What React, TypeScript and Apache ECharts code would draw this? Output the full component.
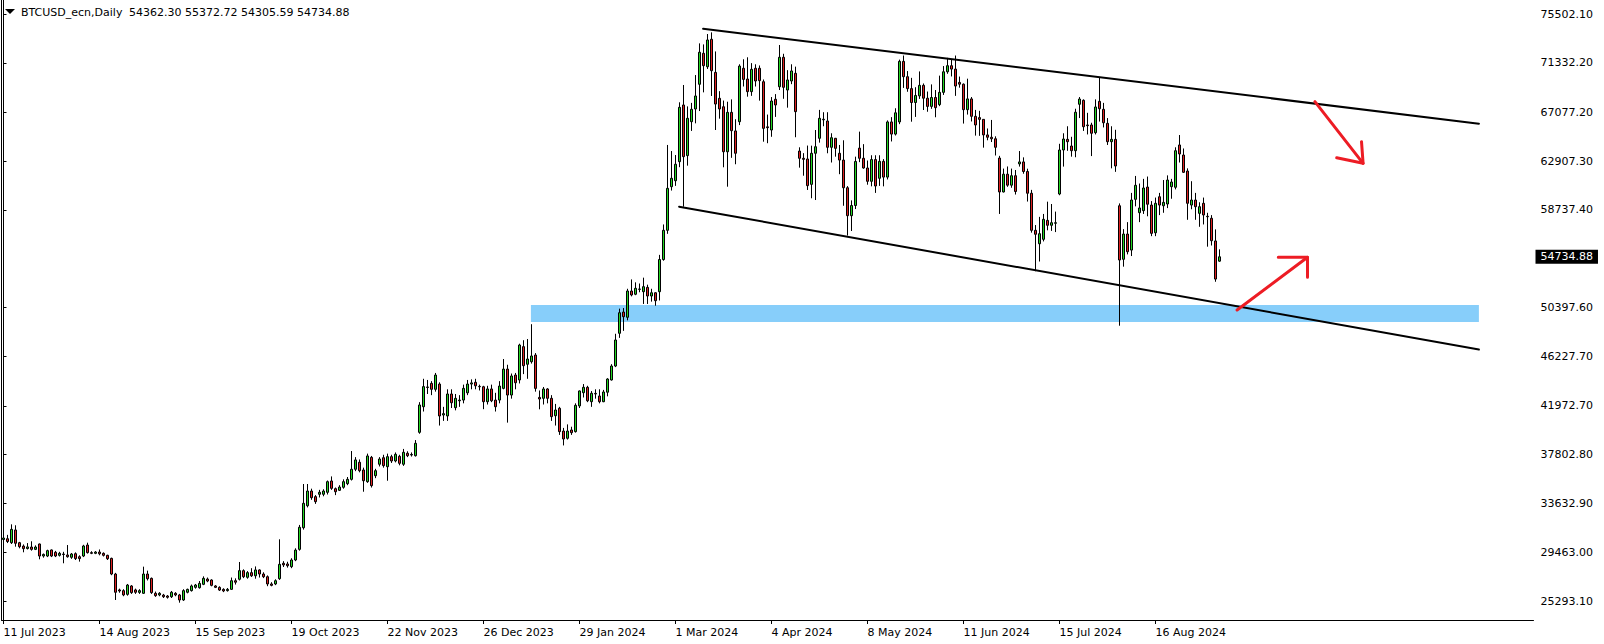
import React, { useEffect, useRef } from 'react';
import * as echarts from 'echarts';

// ---- data -----------------------------------------------------------------
const firstBarDate = '2023-07-11';
const slotCount = 383; // bars + empty space on the right of the chart
const tickEvery = 24;
const tickLabels = [
  '11 Jul 2023', '14 Aug 2023', '15 Sep 2023', '19 Oct 2023', '22 Nov 2023',
  '26 Dec 2023', '29 Jan 2024', '1 Mar 2024', '4 Apr 2024', '8 May 2024',
  '11 Jun 2024', '15 Jul 2024', '16 Aug 2024',
];
const priceTicks = [
  75502.1, 71332.2, 67077.2, 62907.3, 58737.4, 50397.6, 46227.7, 41972.7,
  37802.8, 33632.9, 29463.0, 25293.1,
];
const symbolName = 'BTCUSD_ecn,Daily';
const yMin = 23668;
const yMax = 76699.6;

// daily bars (weekdays), [open, high, low, close]
const ohlc: number[][] = [
  [30550, 30820, 30300, 30680], [30620, 30950, 30250, 30380], [30280, 31850, 30170, 31420], [31370, 31770, 29940, 30230],
  [30280, 30350, 29800, 29940], [29990, 30130, 29460, 29770], [29780, 30250, 29700, 29920], [29910, 30400, 29600, 29710], [29710, 30050, 29650, 29910],
  [30170, 30200, 28860, 29140], [29140, 29350, 29000, 29280], [29140, 29680, 29050, 29600], [29660, 29700, 29050, 29140], [29460, 29580, 29050, 29140],
  [29200, 29500, 29100, 29370], [29310, 29500, 28520, 29270], [29230, 30080, 29000, 29080], [29030, 29400, 28900, 29310], [29340, 29450, 28800, 28920],
  [29080, 29200, 28660, 28920], [29140, 30100, 29050, 30000], [30080, 30280, 29350, 29430], [29430, 29550, 29300, 29370], [29370, 29560, 29300, 29480],
  [29480, 29700, 29200, 29330], [29370, 29450, 29100, 29200], [29200, 29250, 28800, 28910], [28940, 29000, 27500, 27600], [27600, 27700, 25380, 26040],
  [26240, 26350, 26000, 26150], [26180, 26300, 25700, 25810], [25860, 26750, 25750, 26660], [26580, 26650, 25900, 26010], [26240, 26350, 25900, 26040],
  [26030, 26300, 25900, 26180], [25950, 28230, 25900, 27600], [27600, 27890, 27050, 27200], [27230, 27300, 25900, 26010], [25950, 26100, 25650, 25750],
  [25810, 26050, 25700, 25950], [25800, 25900, 25550, 25660], [25720, 25800, 25500, 25610], [25660, 26150, 25550, 26040], [25950, 26050, 25700, 25810],
  [25810, 25900, 25150, 25380], [25380, 26300, 25300, 26180], [26040, 26350, 25950, 26290], [26180, 26700, 26100, 26580], [26460, 26750, 26350, 26660],
  [26430, 27000, 26350, 26800], [26720, 27400, 26650, 27230], [27170, 27300, 26900, 27000], [27090, 27150, 26550, 26630], [26580, 26650, 26400, 26460],
  [26460, 26550, 26150, 26230], [26290, 26380, 26050, 26150], [26180, 26400, 26100, 26290], [26290, 27300, 26250, 27030], [27030, 27230, 26700, 26900],
  [27150, 28630, 27050, 27890], [27890, 28000, 27250, 27370], [27320, 27850, 27200, 27720], [27720, 28100, 27350, 27450], [27450, 28250, 27200, 27950],
  [27950, 28000, 27300, 27600], [27600, 27750, 27250, 27370], [27370, 27480, 26560, 26750], [26750, 26900, 26550, 26630], [26750, 27150, 26650, 27030],
  [27200, 30570, 27100, 28430], [28520, 28700, 28200, 28380], [28460, 28650, 28150, 28310], [28230, 28950, 28100, 28800], [28800, 29800, 28700, 29650],
  [29710, 31800, 29600, 31600], [31560, 35300, 31400, 33650], [33440, 35300, 33300, 34700], [34700, 34900, 33950, 34130], [34220, 34350, 33600, 33790],
  [34420, 34800, 34150, 34590], [34420, 34850, 34250, 34700], [34590, 35600, 34400, 35500], [35560, 35950, 34800, 34930], [34900, 35000, 34350, 34640],
  [34760, 35200, 34700, 35040], [35020, 35700, 34900, 35500], [35330, 35900, 35200, 35700], [35700, 38120, 35600, 36560], [36560, 37600, 36400, 37360],
  [37160, 37400, 36300, 36440], [36500, 36700, 34640, 35580], [35500, 37900, 35400, 37700], [37580, 37700, 35000, 35160], [36010, 36600, 35800, 36440],
  [36990, 37600, 36800, 37440], [37550, 37800, 36700, 36870], [36780, 37900, 35580, 37640], [37640, 37800, 37100, 37270], [37270, 38000, 37150, 37840],
  [37670, 37800, 36900, 37070], [36990, 38300, 36850, 38010], [37930, 38100, 37600, 37720], [37780, 38000, 37650, 37830], [37720, 39060, 37650, 38780],
  [39720, 42300, 39600, 42060], [41910, 44300, 41500, 43630], [43600, 44200, 43000, 43560], [43910, 44100, 42900, 43400], [43400, 44800, 43200, 44620],
  [43850, 44000, 40300, 41120], [41200, 41900, 40700, 41320], [41120, 43400, 40700, 43000], [43000, 43400, 41800, 42250], [41830, 43000, 41600, 42630],
  [42420, 42900, 41900, 42480], [42480, 43800, 42200, 43480], [43100, 44200, 42900, 43850], [43850, 44250, 43400, 43950], [44000, 44300, 43400, 43700],
  [43650, 43800, 43300, 43620], [43620, 43700, 41700, 42340], [42340, 43700, 42100, 43430], [43430, 43800, 42300, 42420], [42480, 43100, 41500, 41910],
  [42480, 44100, 42200, 43680], [43480, 45990, 43400, 45130], [45130, 45500, 40550, 42910], [42910, 44750, 42600, 44540], [44620, 44800, 43400, 43960],
  [44200, 47300, 43900, 47190], [47050, 47600, 44700, 45420], [45540, 47700, 44300, 45990], [45760, 48970, 45600, 46250], [46330, 46500, 43200, 43480],
  [42710, 43300, 41690, 42570], [42630, 43600, 42100, 43430], [43430, 43500, 42200, 42630], [42630, 42900, 40700, 41060], [41140, 42150, 40300, 41630],
  [41780, 41900, 39500, 39780], [39830, 40100, 38600, 39150], [39210, 40400, 39100, 39830], [39920, 40200, 39500, 39690], [39780, 42200, 39700, 42030],
  [41980, 43300, 41800, 43260], [43110, 43850, 42700, 43570], [43570, 43700, 42300, 42420], [42340, 43250, 41900, 43060], [43050, 43400, 42600, 43000],
  [42830, 43400, 42200, 42340], [42340, 43350, 42300, 43170], [43150, 44350, 42800, 44280], [44200, 45550, 44150, 45390], [45390, 48150, 45300, 47620],
  [48190, 50300, 47800, 49950], [50010, 50350, 48400, 49610], [49560, 52000, 49300, 51810], [51810, 52800, 51350, 51470], [51530, 52550, 51450, 52040],
  [51950, 52450, 51700, 51980], [51750, 52950, 50700, 52180], [52120, 52350, 50700, 51380], [51380, 52000, 50900, 51660], [51660, 51700, 50550, 50980],
  [51750, 54900, 51000, 54500], [54500, 57500, 54400, 57000], [57000, 64300, 56700, 60590], [60730, 63780, 60400, 61450], [61240, 63440, 60800, 62650],
  [62870, 67950, 62400, 67520], [67720, 69430, 59020, 63300], [63390, 67600, 62530, 66580], [66290, 67900, 65500, 67350], [67380, 70280, 66150, 68490],
  [69490, 72990, 67200, 72230], [72140, 72900, 68800, 71080], [70990, 73790, 70800, 73280], [73340, 73930, 68490, 70650], [70510, 72300, 65580, 67800],
  [68290, 68900, 66550, 67380], [67570, 68100, 62390, 63720], [63720, 68000, 60730, 67090], [67090, 68200, 63200, 65520], [65500, 66500, 62650, 63590],
  [66290, 71200, 66000, 71050], [70860, 71630, 69300, 69910], [69940, 71800, 68430, 68860], [68860, 71300, 68500, 70770], [70860, 71200, 69300, 69770],
  [70860, 71100, 68090, 69800], [69710, 69900, 64580, 65720], [65850, 66900, 64450, 65780], [65580, 68400, 65000, 68060], [68210, 68650, 66700, 67720],
  [69280, 72850, 69000, 71800], [71800, 72100, 68250, 69230], [69000, 70700, 67490, 69860], [69770, 71200, 69500, 70630], [70430, 71000, 64960, 67150],
  [63780, 64100, 62360, 63160], [63160, 63600, 61670, 63070], [63100, 64250, 60450, 60820], [60930, 64240, 59740, 63590], [63590, 65580, 59590, 64150],
  [64870, 67300, 64500, 66580], [66450, 67100, 65900, 66500], [66350, 67100, 63590, 64100], [64100, 65300, 62800, 64920], [64870, 64900, 63300, 64010],
  [63590, 64300, 61800, 63010], [63010, 64700, 59100, 60640], [60640, 60780, 56550, 58250], [58250, 59560, 56940, 59120], [59120, 63300, 58820, 62890],
  [64030, 65440, 62830, 63160], [63160, 64370, 62270, 62330], [62330, 62970, 60900, 61190], [61190, 63420, 60760, 63050], [63050, 63420, 60200, 60790],
  [61450, 63420, 60800, 62900], [62900, 63090, 60760, 61550], [61550, 66400, 61350, 66270], [66270, 66680, 64600, 65230], [65230, 67440, 65110, 67050],
  [66270, 71600, 66080, 71450], [71450, 71950, 69180, 70140], [70140, 70620, 68850, 69120], [69120, 70040, 66290, 67930], [67930, 69240, 66700, 68530],
  [68500, 70590, 68240, 69400], [69400, 69560, 67290, 68300], [68300, 68870, 67140, 67600], [67600, 69480, 67390, 68360], [68360, 69000, 66670, 67490],
  [67750, 70230, 67620, 68800], [68800, 71050, 68580, 70560], [70560, 71750, 70390, 71080], [71080, 71600, 70160, 70790], [70790, 71950, 68500, 69340],
  [69650, 70150, 69200, 69500], [69500, 69560, 66130, 67320], [67320, 69970, 66900, 68240], [68240, 68400, 66310, 66750], [66750, 67300, 65100, 66010],
  [66640, 67220, 65080, 66490], [66490, 66490, 64070, 65160], [65160, 65710, 64700, 64960], [64960, 66440, 64550, 64830], [64830, 65040, 63400, 64100],
  [63180, 63370, 58400, 60280], [60280, 62280, 60240, 61800], [61800, 62460, 60720, 60860], [60860, 62280, 60640, 61670], [61670, 62160, 60060, 60320],
  [62680, 63780, 62450, 62850], [62850, 63240, 61840, 62030], [62030, 62270, 59460, 60170], [60170, 60460, 56800, 57000], [57000, 57450, 53500, 56660],
  [55850, 58150, 54330, 56710], [56230, 58400, 56050, 57940], [57850, 59450, 57000, 57430], [57430, 59250, 56950, 57650], [57600, 58600, 56850, 57650],
  [60105, 64400, 60000, 63870], [63870, 65300, 62450, 64810], [64780, 65900, 63800, 64580], [64210, 65000, 63300, 63810], [63810, 67400, 63250, 67100],
  [67780, 68400, 66600, 68230], [68120, 68200, 65500, 65860], [66010, 67050, 65200, 65950], [66010, 66200, 63350, 65300], [65350, 68200, 65200, 67550],
  [68030, 70090, 66300, 67400], [67350, 67900, 65800, 66200], [66150, 66600, 64300, 64580], [64580, 65900, 62300, 64780], [64780, 65600, 62000, 62500],
  [59100, 59300, 48840, 54460], [54520, 57100, 53890, 56680], [56680, 57700, 54940, 55170], [55310, 60200, 54800, 59590], [59650, 61650, 59050, 60850],
  [58510, 61000, 57700, 58910], [58680, 61400, 58400, 60620], [60700, 61600, 58200, 59230], [59160, 59500, 56500, 56740], [56790, 59800, 56500, 59310],
  [59870, 60200, 58300, 59160], [59100, 61300, 58500, 59390], [59250, 61700, 58900, 61300], [60730, 61400, 59700, 61130], [60680, 64100, 60500, 63810],
  [64300, 65150, 62800, 63530], [63440, 64000, 61900, 61960], [62070, 62300, 57900, 59310], [59160, 61200, 58800, 59590], [59590, 60200, 57900, 59020],
  [58450, 59400, 57300, 59020], [59310, 59800, 57500, 58310], [58200, 58500, 55600, 58160], [58030, 58300, 55700, 56110], [56090, 57080, 52600, 52830],
  [54362.30, 55372.72, 54305.59, 54734.88],
];

// chart objects drawn by the analyst, anchored at [bar index, price]
const channelUpper = [[174.9, 74245], [368.85, 66119]];
const channelLower = [[168.9, 59020], [368.85, 46805]];
const supportZone = [[131.85, 50612], [368.85, 49157]];
const arrowDownShaft = [[327.85, 68001], [339.9, 62731]];
const arrowDownHead = [[333.3, 63211], [339.9, 62731], [339.5, 64579]];
const arrowUpShaft = [[308.4, 50184], [326.0, 54692]];
const arrowUpHead = [[318.7, 54692], [326.0, 54692], [326.0, 52981]];

// ---- helpers --------------------------------------------------------------
function weekdayDates(start: string, count: number): string[] {
  const out: string[] = [];
  const d = new Date(start + 'T00:00:00Z');
  while (out.length < count) {
    const wd = d.getUTCDay();
    if (wd !== 0 && wd !== 6) out.push(d.toISOString().slice(0, 10));
    d.setUTCDate(d.getUTCDate() + 1);
  }
  return out;
}

const FONT = 'DejaVu Sans';
const BULL = '#22D622';
const BEAR = '#DC2020';
const ARROW = '#ED1C24';

export default function App() {
  const ref = useRef<HTMLDivElement>(null);

  useEffect(() => {
    document.body.style.margin = '0';
    if (!ref.current) return;
    const chart = echarts.init(ref.current, null, { renderer: 'svg' });

    const categories = weekdayDates(firstBarDate, slotCount);
    const candleData = ohlc.map(([o, h, l, c]) => [o, c, l, h]);
    const last = ohlc[ohlc.length - 1];
    const header = last.map((v) => v.toFixed(2)).join(' ');
    const showTick = (i: number) => i % tickEvery === 0 && i / tickEvery < tickLabels.length;

    const drawLine = (data: number[][], color: string, width: number) => ({
      type: 'line',
      xAxisIndex: 1,
      yAxisIndex: 0,
      data,
      showSymbol: false,
      symbol: 'none',
      silent: true,
      z: 4,
      lineStyle: { color, width, cap: 'round', join: 'round' },
    });

    const option: any = {
      animation: false,
      backgroundColor: '#ffffff',
      textStyle: { fontFamily: FONT },
      title: [
        { text: symbolName, left: 21, top: 7, padding: 0, textStyle: { fontFamily: FONT, fontSize: 11, fontWeight: 'normal', color: '#000' } },
        { text: header, left: 129, top: 7, padding: 0, textStyle: { fontFamily: FONT, fontSize: 11, fontWeight: 'normal', color: '#000' } },
      ],
      graphic: [
        { type: 'polygon', shape: { points: [[5, 9], [15, 9], [10, 14]] }, style: { fill: '#000' } },
      ],
      grid: { left: 1.5, right: 70.5, top: 0, bottom: 24, containLabel: false },
      xAxis: [
        {
          type: 'category',
          data: categories,
          boundaryGap: true,
          axisLine: { show: true, lineStyle: { color: '#000', width: 1 } },
          axisTick: { show: true, interval: (i: number) => showTick(i), alignWithLabel: true, length: 4, lineStyle: { color: '#000' } },
          axisLabel: {
            interval: (i: number) => showTick(i),
            formatter: (_v: string, i: number) => tickLabels[i / tickEvery] ?? '',
            align: 'left',
            margin: 7,
            color: '#000',
            fontSize: 11,
            fontFamily: FONT,
          },
          splitLine: { show: false },
        },
        { type: 'value', min: -0.5, max: slotCount - 0.5, show: false },
      ],
      yAxis: [
        {
          type: 'value',
          position: 'right',
          min: yMin,
          max: yMax,
          axisLine: { show: true, lineStyle: { color: '#000', width: 1 } },
          axisTick: { show: true, customValues: priceTicks, length: 3, lineStyle: { color: '#000' } },
          axisLabel: {
            customValues: priceTicks,
            formatter: (v: number) => v.toFixed(2),
            margin: 7,
            color: '#000',
            fontSize: 11,
            fontFamily: FONT,
          },
          splitLine: { show: false },
        },
        {
          type: 'value',
          position: 'left',
          min: yMin,
          max: yMax,
          axisLine: { show: true, lineStyle: { color: '#000', width: 1 } },
          axisTick: { show: false },
          axisLabel: { show: false },
          splitLine: { show: false },
        },
      ],
      series: [
        {
          type: 'line',
          xAxisIndex: 1,
          yAxisIndex: 0,
          data: [],
          silent: true,
          z: 1,
          markArea: {
            silent: true,
            itemStyle: { color: '#87CEFA', opacity: 1 },
            data: [[{ coord: supportZone[0] }, { coord: supportZone[1] }]],
          },
        },
        {
          type: 'candlestick',
          xAxisIndex: 0,
          yAxisIndex: 0,
          data: candleData,
          barWidth: 3,
          z: 3,
          silent: true,
          itemStyle: {
            color: BULL,
            color0: BEAR,
            borderColor: '#000',
            borderColor0: '#000',
            borderWidth: 1,
          },
          markLine: {
            silent: true,
            symbol: 'none',
            lineStyle: { width: 0, color: 'rgba(0,0,0,0)' },
            label: {
              show: true,
              position: 'end',
              distance: 2,
              formatter: () => last[3].toFixed(2),
              color: '#fff',
              backgroundColor: '#000',
              padding: [2, 5, 1, 5],
              fontSize: 11,
              fontFamily: FONT,
            },
            data: [{ yAxis: last[3] }],
          },
        },
        drawLine(channelUpper, '#000', 2),
        drawLine(channelLower, '#000', 2),
        drawLine(arrowDownShaft, ARROW, 3),
        drawLine(arrowDownHead, ARROW, 3),
        drawLine(arrowUpShaft, ARROW, 3),
        drawLine(arrowUpHead, ARROW, 3),
      ],
    };

    chart.setOption(option);
    return () => chart.dispose();
  }, []);

  return <div ref={ref} style={{ width: 1604, height: 644 }} />;
}
